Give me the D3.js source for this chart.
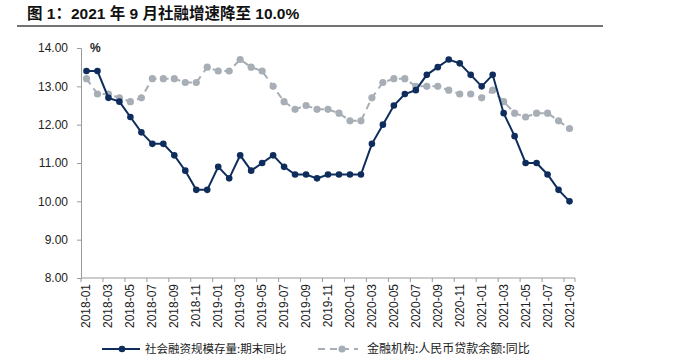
<!DOCTYPE html>
<html>
<head>
<meta charset="utf-8">
<script src="https://cdn.jsdelivr.net/npm/d3@7"></script>
<style>
  body { margin: 0; background: #fff; }
  svg { display: block; }
</style>
</head>
<body>
<div id="chart"></div>
<script>
// months 2018-01 .. 2021-09
const months = [];
for (let y = 2018; y <= 2021; y++) {
    for (let m = 1; m <= 12; m++) {
        if (y === 2021 && m > 9) break;
        months.push(y + "-" + (m < 10 ? "0" + m : m));
    }
}

// 社会融资规模存量:期末同比
const tsfGrowth = [13.4, 13.4, 12.7, 12.6, 12.2, 11.8, 11.5, 11.5, 11.2, 10.8, 10.3, 10.3,
                   10.9, 10.6, 11.2, 10.8, 11.0, 11.2, 10.9, 10.7, 10.7, 10.6, 10.7, 10.7,
                   10.7, 10.7, 11.5, 12.0, 12.5, 12.8, 12.9, 13.3, 13.5, 13.7, 13.6, 13.3,
                   13.0, 13.3, 12.3, 11.7, 11.0, 11.0, 10.7, 10.3, 10.0];
// 金融机构:人民币贷款余额:同比
const loanGrowth = [13.2, 12.8, 12.8, 12.7, 12.6, 12.7, 13.2, 13.2, 13.2, 13.1, 13.1, 13.5,
                    13.4, 13.4, 13.7, 13.5, 13.4, 13.0, 12.6, 12.4, 12.5, 12.4, 12.4, 12.3,
                    12.1, 12.1, 12.7, 13.1, 13.2, 13.2, 13.0, 13.0, 13.0, 12.9, 12.8, 12.8,
                    12.7, 12.9, 12.6, 12.3, 12.2, 12.3, 12.3, 12.1, 11.9];
const yTicks = [8, 9, 10, 11, 12, 13, 14];
const seriesNames = ["社会融资规模存量:期末同比", "金融机构:人民币贷款余额:同比"];

const width = 678, height = 361;
const margin = {top: 48, left: 81, right: 103, bottom: 83};
const navy = "#0f2d5c", gray = "#a7aeb6";

const svg = d3.select("#chart").append("svg")
    .attr("width", width)
    .attr("height", height)
    .style("font-family", "'Liberation Sans', Arial, sans-serif");

// title
svg.append("text")
    .attr("x", 27).attr("y", 19)
    .attr("font-size", 15.5).attr("font-weight", "bold").attr("fill", "#111")
    .style("font-family", "'Liberation Sans', 'Noto Sans CJK SC', sans-serif")
    .text("图 1：2021 年 9 月社融增速降至 10.0%");
svg.append("line")
    .attr("x1", 17).attr("x2", 603).attr("y1", 26).attr("y2", 26)
    .attr("stroke", "#444").attr("stroke-width", 1.5);

const x = d3.scaleBand()
    .domain(months)
    .range([margin.left, width - margin.right]);

const y = d3.scaleLinear()
    .domain([8, 14])
    .range([height - margin.bottom, margin.top]);

// y axis
const yAxis = svg.append("g")
    .attr("transform", `translate(${margin.left},0)`)
    .call(d3.axisLeft(y).tickValues(yTicks).tickFormat(d3.format(".2f")).tickSize(4));
yAxis.select(".domain").attr("stroke", "#9a9a9a");
yAxis.selectAll(".tick line").attr("stroke", "#9a9a9a");
yAxis.selectAll(".tick text")
    .attr("x", -13).attr("font-size", 12).attr("fill", "#222");

svg.append("text")
    .attr("x", 90).attr("y", 52)
    .attr("font-size", 12).attr("font-weight", "bold").attr("fill", "#222")
    .text("%");

// x axis: ticks between every second month, labels every second month
const xAxisG = svg.append("g")
    .attr("transform", `translate(0,${height - margin.bottom})`);
xAxisG.append("line")
    .attr("x1", margin.left).attr("x2", width - margin.right)
    .attr("stroke", "#9a9a9a");
const tickMonths = months.filter((d, i) => i % 2 === 0);
xAxisG.selectAll(".tk")
    .data(tickMonths.concat(["end"]))
    .enter().append("line")
    .attr("x1", d => d === "end" ? x.range()[1] : x(d))
    .attr("x2", d => d === "end" ? x.range()[1] : x(d))
    .attr("y1", 0).attr("y2", 4)
    .attr("stroke", "#9a9a9a");
xAxisG.selectAll(".lbl")
    .data(tickMonths)
    .enter().append("text")
    .attr("transform", d => `translate(${x(d) + x.bandwidth() / 2 + 4},6) rotate(-90)`)
    .attr("text-anchor", "end")
    .attr("font-size", 12).attr("fill", "#222")
    .text(d => d);

const line = d3.line()
    .x((d, i) => x(months[i]) + x.bandwidth() / 2)
    .y(d => y(d));

// loan growth: gray dashed
svg.append("path")
    .datum(loanGrowth)
    .attr("d", line)
    .attr("fill", "none")
    .attr("stroke", gray)
    .attr("stroke-width", 2)
    .attr("stroke-dasharray", "7,5");
svg.selectAll(".gdot")
    .data(loanGrowth)
    .enter().append("circle")
    .attr("cx", (d, i) => x(months[i]) + x.bandwidth() / 2)
    .attr("cy", d => y(d))
    .attr("r", 3.6)
    .attr("fill", gray);

// social financing: navy solid
svg.append("path")
    .datum(tsfGrowth)
    .attr("d", line)
    .attr("fill", "none")
    .attr("stroke", navy)
    .attr("stroke-width", 2);
svg.selectAll(".ndot")
    .data(tsfGrowth)
    .enter().append("circle")
    .attr("cx", (d, i) => x(months[i]) + x.bandwidth() / 2)
    .attr("cy", d => y(d))
    .attr("r", 3.3)
    .attr("fill", navy);

// legend
const legY = 349;
const leg = svg.append("g").style("font-family", "'Noto Sans CJK SC', sans-serif");
leg.append("line").attr("x1", 102).attr("x2", 140).attr("y1", legY).attr("y2", legY)
    .attr("stroke", navy).attr("stroke-width", 2);
leg.append("circle").attr("cx", 122).attr("cy", legY).attr("r", 3.3).attr("fill", navy);
leg.append("text").attr("x", 145).attr("y", legY + 4)
    .attr("font-size", 11.5).attr("fill", "#222").text(seriesNames[0]);

leg.append("line").attr("x1", 318).attr("x2", 358).attr("y1", legY).attr("y2", legY)
    .attr("stroke", gray).attr("stroke-width", 2).attr("stroke-dasharray", "7,5");
leg.append("circle").attr("cx", 342).attr("cy", legY).attr("r", 3.6).attr("fill", gray);
leg.append("text").attr("x", 367).attr("y", legY + 4)
    .attr("font-size", 12).attr("fill", "#222").text(seriesNames[1]);
</script>
</body>
</html>
